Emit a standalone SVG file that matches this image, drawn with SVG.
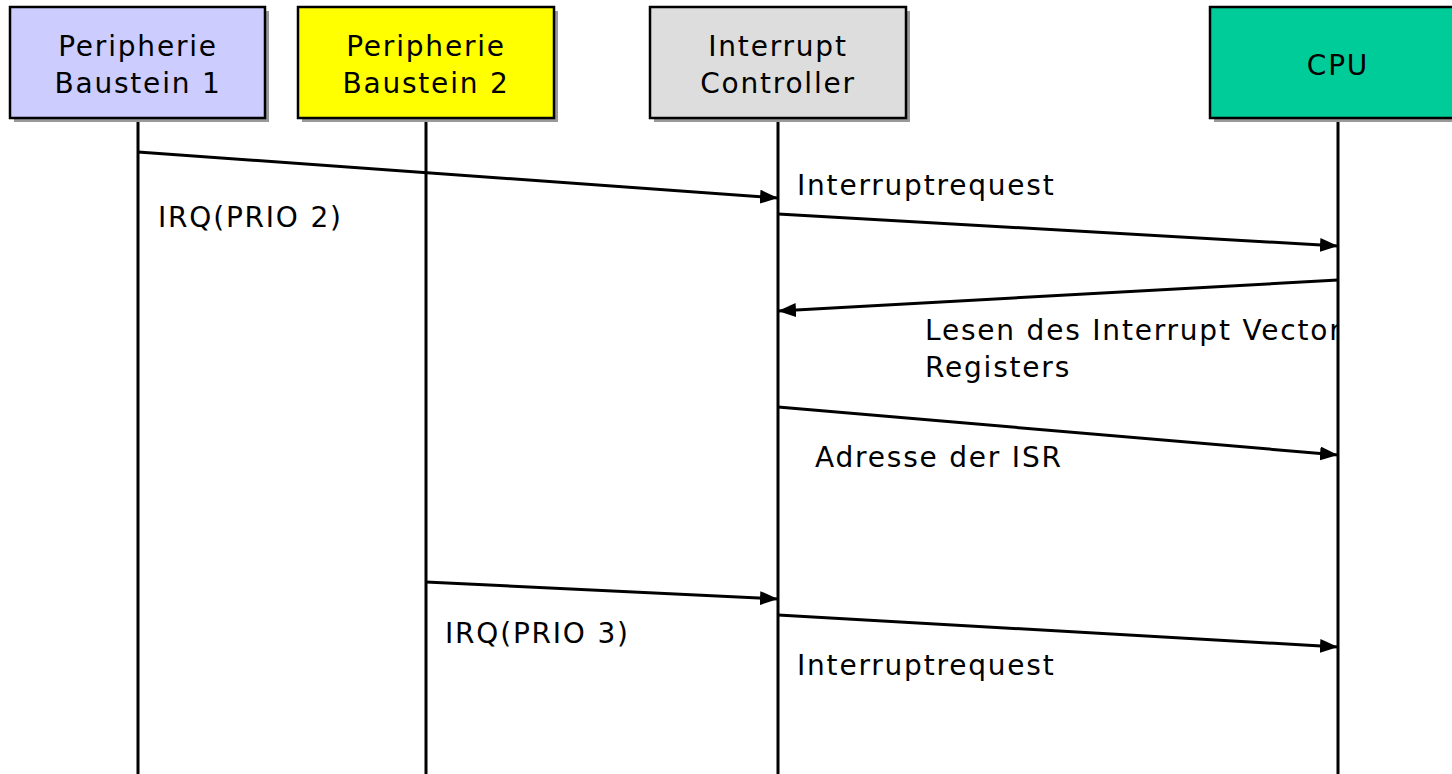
<svg xmlns="http://www.w3.org/2000/svg" width="1452" height="774" viewBox="0 0 1452 774">
<defs>
<marker id="ah" viewBox="0 0 18 14" markerWidth="18" markerHeight="14" refX="18" refY="7" orient="auto" markerUnits="userSpaceOnUse">
<path d="M0,0 L18,7 L0,14 Z" fill="#000"/>
</marker>
<clipPath id="clipCpu"><rect x="0" y="0" width="1337" height="774"/></clipPath>
</defs>
<style>
.box{stroke:#000;stroke-width:2.5}
.shadow{fill:#999}
.t{font-family:"DejaVu Sans","Liberation Sans",sans-serif;font-size:28px;letter-spacing:1.8px;fill:#000}
.life{stroke:#000;stroke-width:3}
.msg{stroke:#000;stroke-width:3;fill:none}
</style>
<rect width="1452" height="774" fill="#fff"/>
<g id="lifelines">
<line class="life" x1="138" y1="118" x2="138" y2="774"/>
<line class="life" x1="426" y1="118" x2="426" y2="774"/>
<line class="life" x1="778" y1="118" x2="778" y2="774"/>
<line class="life" x1="1338" y1="118" x2="1338" y2="774"/>
</g>
<g id="node-p1">
<rect class="shadow" x="14" y="11" width="255" height="111"/>
<rect class="box" x="10" y="7" width="255" height="111" fill="#CCCCFF"/>
<text class="t" x="138" y="56" text-anchor="middle">Peripherie</text>
<text class="t" x="138" y="93" text-anchor="middle">Baustein 1</text>
</g>
<g id="node-p2">
<rect class="shadow" x="302" y="11" width="256" height="111"/>
<rect class="box" x="298" y="7" width="256" height="111" fill="#FFFF00"/>
<text class="t" x="426" y="56" text-anchor="middle">Peripherie</text>
<text class="t" x="426" y="93" text-anchor="middle">Baustein 2</text>
</g>
<g id="node-ic">
<rect class="shadow" x="654" y="11" width="256" height="111"/>
<rect class="box" x="650" y="7" width="256" height="111" fill="#DDDDDD"/>
<text class="t" x="778" y="56" text-anchor="middle">Interrupt</text>
<text class="t" x="778" y="93" text-anchor="middle">Controller</text>
</g>
<g id="node-cpu">
<rect class="shadow" x="1214" y="11" width="260" height="111"/>
<rect class="box" x="1210" y="7" width="260" height="111" fill="#00CC99"/>
<text class="t" x="1338" y="75" text-anchor="middle">CPU</text>
</g>
<g id="connectors">
<line class="msg" x1="138" y1="152" x2="778" y2="198" marker-end="url(#ah)"/>
<line class="msg" x1="778" y1="214" x2="1338" y2="246" marker-end="url(#ah)"/>
<line class="msg" x1="1338" y1="280" x2="778" y2="311" marker-end="url(#ah)"/>
<line class="msg" x1="778" y1="407" x2="1338" y2="455" marker-end="url(#ah)"/>
<line class="msg" x1="426" y1="582" x2="778" y2="599" marker-end="url(#ah)"/>
<line class="msg" x1="778" y1="615" x2="1338" y2="647" marker-end="url(#ah)"/>
</g>
<g id="labels">
<text class="t" x="797" y="195">Interruptrequest</text>
<text class="t" x="158" y="227">IRQ(PRIO 2)</text>
<text class="t" x="925" y="340" clip-path="url(#clipCpu)">Lesen des Interrupt Vector</text>
<text class="t" x="925" y="377">Registers</text>
<text class="t" x="815" y="467">Adresse der ISR</text>
<text class="t" x="445" y="643">IRQ(PRIO 3)</text>
<text class="t" x="797" y="675">Interruptrequest</text>
</g>
</svg>
